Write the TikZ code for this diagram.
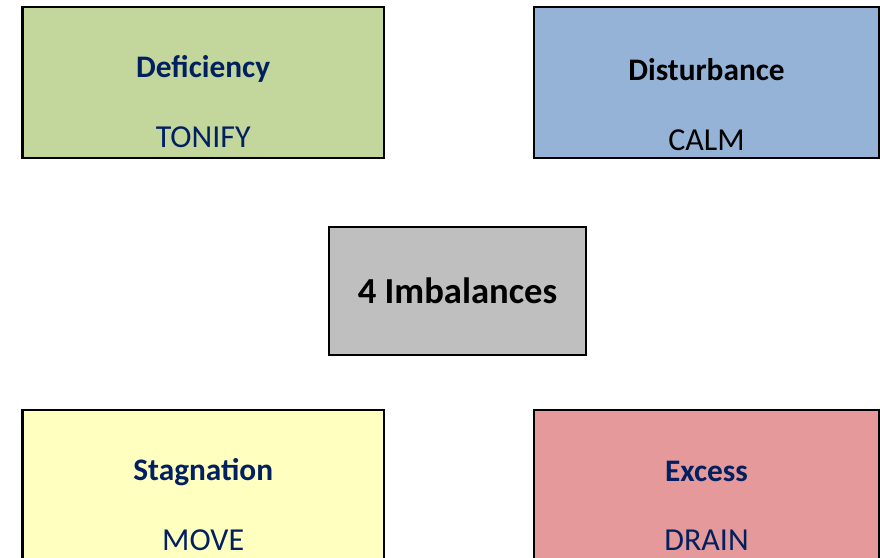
\documentclass[tikz,border=0pt]{standalone}
\usepackage{fontspec}
\setmainfont{Carlito}
\usetikzlibrary{positioning}

\definecolor{defgreen}{HTML}{C3D69B}
\definecolor{disblue}{HTML}{95B3D7}
\definecolor{midgray}{HTML}{BFBFBF}
\definecolor{stagyellow}{HTML}{FFFFC0}
\definecolor{excred}{HTML}{E6999A}
\definecolor{navy}{HTML}{002060}

\begin{document}
\begin{tikzpicture}[%show background rectangle,
        x=0.75pt, y=-0.75pt,
        font=\fontsize{24}{28}\selectfont,
        box/.style={draw=black, line width=1.6pt, inner sep=0pt,
            minimum width=271pt, minimum height=113pt},
        boxnarrow/.style={box, minimum width=259pt},
        title/.style={font=\fontsize{23.5}{28}\selectfont\bfseries, text=navy},
        action/.style={text=navy, inner sep=1pt}
        ]
            \useasboundingbox (0,0) rectangle (880,557);
            \clip (0,0) rectangle (880,557);

            % Kaesten
            \node[box, fill=defgreen]         (defic)   at (203.2,82.7)  {};
            \node[boxnarrow, fill=disblue]    (disturb) at (706.5,82.7)  {};
            \node[box, fill=stagyellow]       (stag)    at (203.2,485.2) {};
            \node[boxnarrow, fill=excred]     (excess)  at (706.5,485.2) {};
            \node[draw=black, line width=1.6pt, fill=midgray,
                  minimum width=193pt, minimum height=96pt,
                  font=\fontsize{27.5}{32}\selectfont\bfseries]
                                              (centre)  at (457.5,291)   {4 Imbalances};

            % Beschriftung
            \node[title]            (deficT)   at ([yshift=10pt]defic.center)   {Deficiency};
            \node[action]           (deficA)   at ([yshift=-41pt]defic.center)  {TONIFY};
            \node[title, text=black] (disturbT) at ([yshift=10pt]disturb.center) {Disturbance};
            \node[action, text=black] (disturbA) at ([yshift=-43pt]disturb.center) {CALM};
            \node[title]            (stagT)    at ([yshift=10pt]stag.center)    {Stagnation};
            \node[action]           (stagA)    at ([yshift=-41.5pt]stag.center)   {MOVE};
            \node[title]            (excessT)  at ([yshift=10pt]excess.center)  {Excess};
            \node[action]           (excessA)  at ([yshift=-41.5pt]excess.center) {DRAIN};
\end{tikzpicture}
\end{document}
